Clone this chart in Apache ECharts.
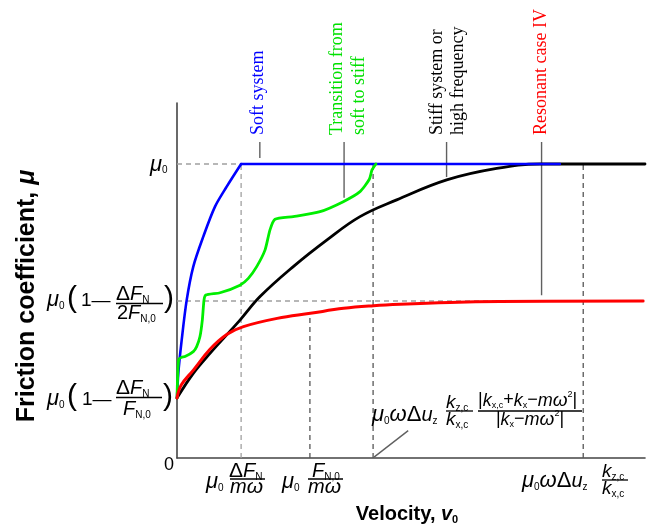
<!DOCTYPE html>
<html><head><meta charset="utf-8">
<script src="https://cdn.jsdelivr.net/npm/echarts@6/dist/echarts.min.js"></script>
<style>html,body{margin:0;padding:0;background:#fff}#c{width:662px;height:525px}</style>
</head><body><div id="c"></div>
<script>
// ---- data (x in arbitrary velocity units 0..100, y in units of mu0) ----
const X_MAX = 100;
const Y_MAX = 1.2075;
const MU0 = 1.0;
const MU_HALF = 0.534;
const MU_LOW = 0.204;
const X_MARKS = [13.7, 28.4, 41.9, 86.8];

const BLUE = [[0,0.204],[0.28,0.289],[1.0,0.401],[2.07,0.537],[3.48,0.651],[5.62,0.753],[8.12,0.855],[10.62,0.923],[13.7,1.0],[81.8,1.0]];
const BLUE_CORNER = 8; // index where the soft-system curve reaches mu0
const GREEN = [[0,0.204],[0.35,0.335],[1.0,0.343],[1.71,0.345],[3.48,0.362],[4.2,0.379],[4.91,0.413],[5.41,0.469],[5.77,0.537],[6.13,0.554],[9.19,0.562],[13.46,0.588],[15.24,0.611],[17.03,0.651],[18.8,0.707],[19.87,0.776],[20.94,0.812],[24.85,0.821],[30.56,0.838],[35.53,0.872],[39.1,0.906],[41.1,0.948],[41.67,0.98],[42.5,1.0]];
const BLACK = [[0,0.204],[3.48,0.288],[7.05,0.356],[13.46,0.469],[17.74,0.549],[24.85,0.651],[31.99,0.741],[39.1,0.821],[46.94,0.878],[57.63,0.946],[68.31,0.985],[77.56,1.0],[100,1.0]];
const RED = [[0,0.204],[0.9,0.248],[3.5,0.299],[7.05,0.37],[10.7,0.421],[14.2,0.447],[21.4,0.475],[28.5,0.492],[35.6,0.509],[42,0.518],[47.7,0.523],[58.3,0.529],[69,0.532],[99.6,0.534]];

// guide segments
const GUIDES_LIGHT = [[[0,MU0],[X_MARKS[0],MU0]], [[X_MARKS[0],0],[X_MARKS[0],MU0]], [[0,MU_HALF],[78,MU_HALF]]];
const GUIDES_DARK = [[[X_MARKS[1],0],[X_MARKS[1],0.492]], [[X_MARKS[2],0],[X_MARKS[2],MU0]], [[X_MARKS[3],0],[X_MARKS[3],MU0]]];
const POINTERS = [[[17.7,1.075],[17.7,1.02]], [[35.7,1.075],[35.7,0.885]], [[57.6,1.075],[57.6,0.956]], [[77.9,1.075],[77.9,0.554]], [[42.1,0.003],[49.4,0.093]]];

const CASE_LABELS = [['Soft system'], ['Transition from','soft to stiff'], ['Stiff system or','high frequency'], ['Resonant case IV']];

// ---- chart ----
const SANS = '"Liberation Sans", Arial, sans-serif';
const SERIF = '"Liberation Serif", "Times New Roman", serif';
function rich(sz, gsz){
  const s = Math.round(sz*0.52);
  const lh = sz+2;
  gsz = gsz || Math.round(sz*1.1);
  return {
    i:{fontSize:sz,fontStyle:'italic',fontFamily:SANS,fill:'#000',lineHeight:lh},
    r:{fontSize:sz,fontFamily:SANS,fill:'#000',lineHeight:lh},
    g:{fontSize:gsz,fontStyle:'italic',fontFamily:SANS,fill:'#000',lineHeight:lh},
    G:{fontSize:gsz,fontFamily:SANS,fill:'#000',lineHeight:lh},
    s:{fontSize:s,fontFamily:SANS,fill:'#000',verticalAlign:'bottom',lineHeight:s+1},
    p:{fontSize:s,fontFamily:SANS,fill:'#000',verticalAlign:'top',lineHeight:s+1},
    b:{fontSize:sz,fontWeight:'bold',fontFamily:SANS,fill:'#000',lineHeight:lh},
    bi:{fontSize:sz,fontWeight:'bold',fontStyle:'italic',fontFamily:SANS,fill:'#000',lineHeight:lh},
    bs:{fontSize:s+1,fontWeight:'bold',fontFamily:SANS,fill:'#000',verticalAlign:'bottom',lineHeight:s+2}
  };
}
function tx(x,y,str,sz,align,gsz){
  return {type:'text',x:x,y:y,silent:true,z:100,style:{text:str,rich:rich(sz,gsz),align:align||'left',verticalAlign:'middle'}};
}
function bar(x1,x2,y){
  return {type:'line',silent:true,z:100,shape:{x1:x1,y1:y,x2:x2,y2:y},style:{stroke:'#000',lineWidth:1.3}};
}
function plain(x,y,str,sz,align){
  return {type:'text',x:x,y:y,silent:true,z:100,style:{text:str,font:sz+'px '+SANS,fill:'#000',align:align||'left',verticalAlign:'middle'}};
}

const CASE_COLORS = ['#0000ff','#00e000','#000000','#ff0000'];
const CASE_X = [[258],[337.5,359],[437.5,458],[541]];

const graphics = [];
CASE_LABELS.forEach((lines,k)=>{
  lines.forEach((ln,j)=>{
    graphics.push({type:'text',x:CASE_X[k][j],y:135,rotation:Math.PI/2,silent:true,z:100,
      style:{text:ln,font:'18px '+SERIF,fill:CASE_COLORS[k],align:'left',verticalAlign:'middle'}});
  });
});
// y-axis labels
graphics.push(tx(150,164.5,'{g|μ}{s|0}',20,'left',22));
// mu0(1 - dF/2F0)
graphics.push(tx(47,300,'{g|μ}{s|0}',20,'left',22));
graphics.push(plain(67,299,'(',30));
graphics.push(tx(81,301,'{r|1—}',19));
graphics.push(tx(116,294.5,'{G|Δ}{i|F}{s|N}',20,'left',21));
graphics.push(bar(116,163,303.5));
graphics.push(tx(117,313.5,'{r|2}{i|F}{s|N,0}',20));
graphics.push(plain(164,299,')',30));
// mu0(1 - dF/F0)
graphics.push(tx(47,399,'{g|μ}{s|0}',20,'left',22));
graphics.push(plain(67,397,'(',30));
graphics.push(tx(82,400,'{r|1—}',19));
graphics.push(tx(116,388,'{G|Δ}{i|F}{s|N}',20,'left',21));
graphics.push(bar(116,162,397.5));
graphics.push(tx(123,409,'{i|F}{s|N,0}',20));
graphics.push(plain(163,397,')',30));
// origin
graphics.push(plain(169,465,'0',18,'center'));
// x labels
graphics.push(tx(206,482,'{g|μ}{s|0}',20,'left',22));
graphics.push(tx(229,471,'{G|Δ}{i|F}{s|N}',20,'left',21));
graphics.push(bar(230,265,479));
graphics.push(tx(230,487,'{i|m}{g|ω}',20,'left',21));
graphics.push(tx(282,482,'{g|μ}{s|0}',20,'left',22));
graphics.push(tx(312,471,'{i|F}{s|N,0}',20));
graphics.push(bar(308,343,479));
graphics.push(tx(308,487,'{i|m}{g|ω}',20,'left',21));
graphics.push(tx(522,481,'{g|μ}{s|0}{g|ω}{G|Δ}{i|u}{s|z}',20,'left',22));
graphics.push(tx(602,471.5,'{i|k}{s|z,c}',19));
graphics.push(bar(602,628,480));
graphics.push(tx(602,489,'{i|k}{s|x,c}',19));
// middle formula
graphics.push(tx(372,415,'{g|μ}{s|0}{g|ω}{G|Δ}{i|u}{s|z}',20,'left',22));
graphics.push(tx(446,402.5,'{i|k}{s|z,c}',19));
graphics.push(bar(446,473,411));
graphics.push(tx(446,420,'{i|k}{s|x,c}',19));
graphics.push(tx(478,400.5,'{r||}{i|k}{s|x,c}{r|+}{i|k}{s|x}{r|−}{i|m}{g|ω}{p|2}{r||}',18,'left',19));
graphics.push(bar(478,582,411));
graphics.push(tx(530,419.5,'{r||}{i|k}{s|x}{r|−}{i|m}{g|ω}{p|2}{r||}',18,'center',19));
// axis titles
graphics.push(tx(407,514,'{b|Velocity, }{bi|v}{bs|0}',20,'center'));
const ytitle = tx(27,296,'{b|Friction coefficient, }{bi|μ}',25,'center');
ytitle.rotation = Math.PI/2;
graphics.push(ytitle);

function seg(pts,color,width,type,z){
  return {type:'line',data:pts,showSymbol:false,symbol:'none',silent:true,z:z,animation:false,
    lineStyle:{color:color,width:width,type:type}};
}
const series = [];
GUIDES_LIGHT.forEach(g=>series.push(seg(g,'#a0a0a0',1.3,[5,4],1)));
GUIDES_DARK.forEach(g=>series.push(seg(g,'#555555',1.3,[5,4],1)));
POINTERS.forEach(g=>series.push(seg(g,'#606060',1.4,'solid',1)));
function curve(d,color,w,z,sm){
  return {type:'line',data:d,showSymbol:false,symbol:'none',smooth:sm,silent:true,z:z,animation:false,
    lineStyle:{color:color,width:w,cap:'round',join:'round'}};
}
series.push(curve(BLACK,'#000000',2.8,3,0.4));
series.push(curve(BLUE.slice(0,BLUE_CORNER+1),'#0000ff',2.6,4,0.3));
series.push(curve(BLUE.slice(BLUE_CORNER),'#0000ff',2.6,4,false));
series.push(curve(GREEN,'#00ee00',2.8,5,0.2));
series.push(curve(RED,'#ff0000',3,6,0.4));

const chart = echarts.init(document.getElementById('c'),null,{renderer:'canvas'});
chart.setOption({
  animation:false,
  backgroundColor:'#fff',
  grid:{left:177,right:17,top:103,bottom:67,containLabel:false},
  xAxis:{type:'value',min:0,max:X_MAX,axisLine:{show:true,onZero:false,lineStyle:{color:'#444',width:1.6}},axisTick:{show:false},axisLabel:{show:false},splitLine:{show:false}},
  yAxis:{type:'value',min:0,max:Y_MAX,axisLine:{show:true,onZero:false,lineStyle:{color:'#444',width:1.6}},axisTick:{show:false},axisLabel:{show:false},splitLine:{show:false}},
  series:series,
  graphic:graphics
});
</script></body></html>
